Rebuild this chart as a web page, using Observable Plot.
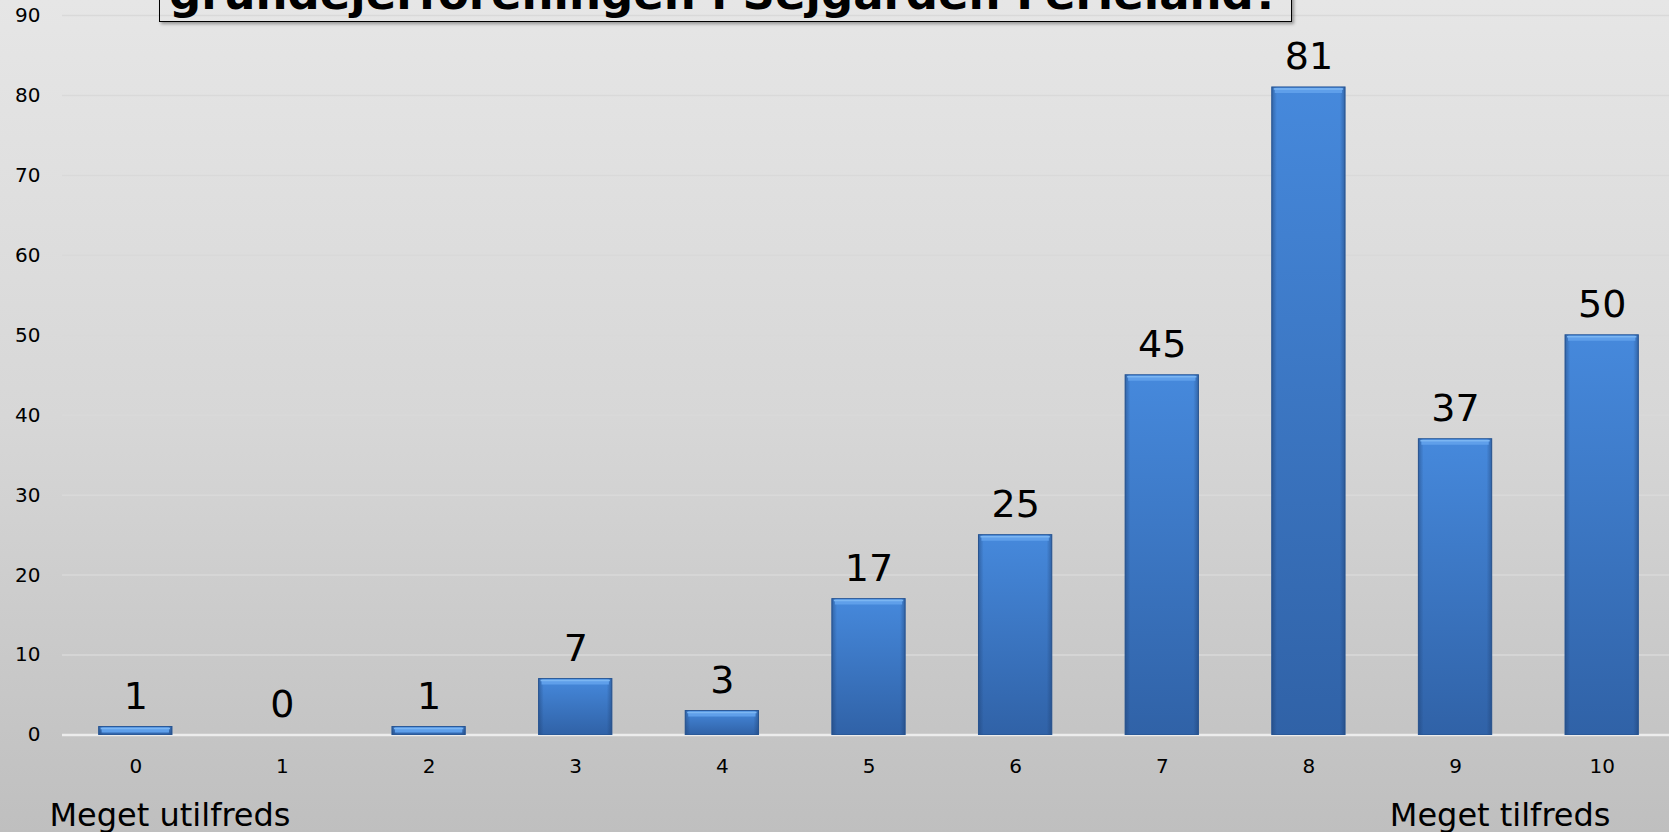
<!DOCTYPE html>
<html><head><meta charset="utf-8">
<script src="https://cdn.jsdelivr.net/npm/d3@7"></script>
<script src="https://cdn.jsdelivr.net/npm/@observablehq/plot@0.6"></script>
<style>
html,body{margin:0;padding:0;width:1669px;height:832px;overflow:hidden;}
body{background:linear-gradient(to bottom,#e6e6e6 0%,#d7d7d7 50%,#bfbfbf 100%);font-family:"DejaVu Sans",Verdana,sans-serif;position:relative;}
#chart{position:absolute;left:0;top:0;width:1676px;height:832px;}
#title{position:absolute;left:159px;top:-60px;width:1133px;height:82px;box-sizing:border-box;border:1.5px solid #000;box-shadow:2px 2px 3px rgba(0,0,0,.35);overflow:hidden;}
#title span{position:absolute;left:9px;top:30px;font-weight:bold;font-size:45px;line-height:45px;white-space:nowrap;color:#000;}
</style></head><body>
<div id="chart"></div>
<div id="title"><span id="titleText"></span></div>
<script>
const titleText = "grundejerforeningen i Sejgården Ferieland?";
const scores = ["0","1","2","3","4","5","6","7","8","9","10"];
const counts = [1,0,1,7,3,17,25,45,81,37,50];
const yTicks = [0,10,20,30,40,50,60,70,80,90];
const endLabels = ["Meget utilfreds","Meget tilfreds"];

document.getElementById("titleText").textContent = titleText;
const data = scores.map((s,i)=>({score:s,count:counts[i]}));
const font = "DejaVu Sans, Verdana, sans-serif";

const chart = Plot.plot({
  width:1676, height:832,
  marginLeft:62, marginRight:1, marginTop:15, marginBottom:97.5,
  style:{background:"transparent", fontFamily:font, overflow:"visible", color:"#000", maxWidth:"none"},
  x:{domain:scores, paddingInner:0.5, paddingOuter:0.25, round:false, label:null},
  y:{domain:[0,90], label:null},
  marks:[
    Plot.gridY(yTicks,{stroke:"#d9d9d9", strokeOpacity:1, strokeWidth:1.5}),
    Plot.ruleY([0],{stroke:"#ececec", strokeWidth:2.5}),
    Plot.barY(data,{x:"score", y:"count", fill:"url(#barV)", stroke:"#2b5a99", strokeWidth:1}),
    Plot.barY(data,{x:"score", y:"count", fill:"url(#barH)"}),
    Plot.tickY(data.filter(d=>d.count>0),{x:"score", y:"count", stroke:"#5f9fea", strokeWidth:5, dy:3, inset:3}),
    Plot.tickY(data.filter(d=>d.count>0),{x:"score", y:"count", stroke:"#7cb6f2", strokeWidth:1.5, dy:1.5, inset:2}),
    Plot.axisX({tickSize:0, tickPadding:24, fontSize:20, fill:"#000", label:null}),
    Plot.axisY(yTicks,{tickSize:0, tickPadding:22, fontSize:20, fill:"#000", label:null}),
    Plot.text(data,{x:"score", y:"count", text:d=>String(d.count), lineAnchor:"bottom", dy:-18, fontSize:38, fill:"#000"}),
    Plot.text([endLabels[0]],{frameAnchor:"bottom-left", text:d=>d, textAnchor:"start", lineAnchor:"bottom", dx:-13, dy:90.5, fontSize:32, fill:"#000"}),
    Plot.text([endLabels[1]],{frameAnchor:"bottom-right", text:d=>d, textAnchor:"end", lineAnchor:"bottom", dx:-65, dy:90.5, fontSize:32, fill:"#000"})
  ]
});

const ns = "http://www.w3.org/2000/svg";
const defs = document.createElementNS(ns,"defs");
defs.innerHTML = `<linearGradient id="barV" x1="0" y1="0" x2="0" y2="1"><stop offset="0" stop-color="#4689dc"/><stop offset="1" stop-color="#3062a7"/></linearGradient>
<linearGradient id="barH" x1="0" y1="0" x2="1" y2="0"><stop offset="0" stop-color="#1c3c6c" stop-opacity="0.45"/><stop offset="0.07" stop-color="#1c3c6c" stop-opacity="0"/><stop offset="0.93" stop-color="#1c3c6c" stop-opacity="0"/><stop offset="1" stop-color="#1c3c6c" stop-opacity="0.45"/></linearGradient>`;
chart.prepend(defs);
document.getElementById("chart").appendChild(chart);
</script>
</body></html>
